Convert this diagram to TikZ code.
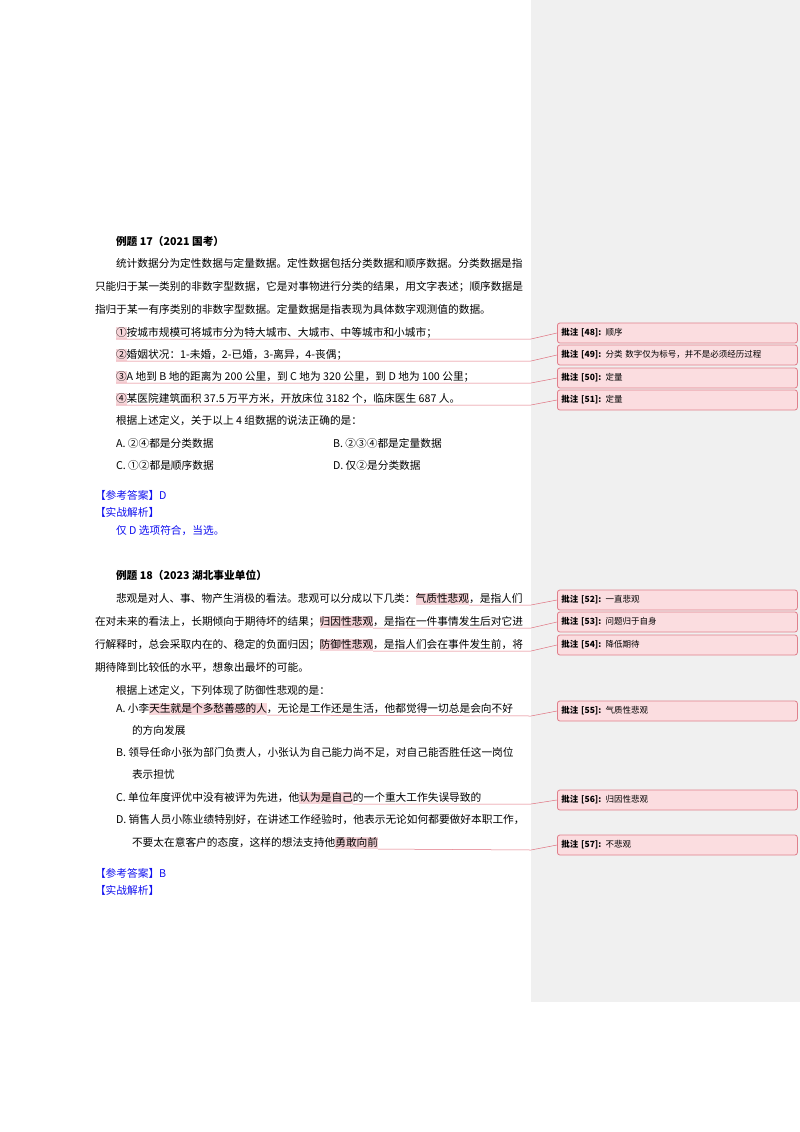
\documentclass[tikz,border=0pt]{standalone}
\usepackage{fontspec}
\setmainfont{Noto Sans CJK SC}
\definecolor{panel}{HTML}{F0F0F0}
\definecolor{hlpink}{HTML}{F6D5D9}
\definecolor{boxfill}{HTML}{FBDDE0}
\definecolor{boxline}{HTML}{E0808C}
\definecolor{cline}{HTML}{E0707E}
\definecolor{ansblue}{HTML}{1010F0}
\begin{document}
\begin{tikzpicture}[x=1pt,y=-1pt,
  t/.style={inner sep=0,outer sep=0,anchor=base west,font=\fontsize{10.7}{12}\selectfont},
  tb/.style={t,font=\fontsize{10.7}{12}\selectfont\bfseries},
  ans/.style={t,text=ansblue},
  hl/.style={t,fill=hlpink,text height=9.5,text depth=3},
  cmt/.style={draw=boxline,fill=boxfill,rounded corners=2.5,line width=0.8,minimum height=20,text width=232,inner xsep=4,anchor=west,align=left,font=\fontsize{8.5}{9.5}\selectfont},
  cl/.style={draw=cline,line width=0.5}]
\useasboundingbox (0,0) rectangle (800,1132);
\fill[white] (0,0) rectangle (800,1132);
\fill[panel] (531,0) rectangle (800,1002);
% Example 17
\node[tb] (t17) at (116,245) {例题 17（2021 国考）};
\node[t] (p1) at (116,267) {统计数据分为定性数据与定量数据。定性数据包括分类数据和顺序数据。分类数据是指};
\node[t] (p2) at (95,290) {只能归于某一类别的非数字型数据，它是对事物进行分类的结果，用文字表述；顺序数据是};
\node[t] (p3) at (95,313) {指归于某一有序类别的非数字型数据。定量数据是指表现为具体数字观测值的数据。};
\node[hl] (h1) at (116,336) {①};
\node[t] at (h1.base east) {按城市规模可将城市分为特大城市、大城市、中等城市和小城市；};
\node[hl] (h2) at (116,358) {②};
\node[t] at (h2.base east) {婚姻状况：1-未婚，2-已婚，3-离异，4-丧偶；};
\node[hl] (h3) at (116,380) {③};
\node[t] at (h3.base east) {A 地到 B 地的距离为 200 公里，到 C 地为 320 公里，到 D 地为 100 公里；};
\node[hl] (h4) at (116,402) {④};
\node[t] at (h4.base east) {某医院建筑面积 37.5 万平方米，开放床位 3182 个，临床医生 687 人。};
\node[t] (q17) at (116,424) {根据上述定义，关于以上 4 组数据的说法正确的是：};
\node[t] (oa) at (116,447) {A. ②④都是分类数据};
\node[t] (ob) at (333,447) {B. ②③④都是定量数据};
\node[t] (oc) at (116,469) {C. ①②都是顺序数据};
\node[t] (od) at (333,469) {D. 仅②是分类数据};
\node[ans] (a17) at (95,499) {【参考答案】D};
\node[ans] (s17) at (95,516) {【实战解析】};
\node[ans] (e17) at (116,534) {仅 D 选项符合，当选。};
% comments 17
\node[cmt] (c48) at (557,333) {\textbf{批注 [48]:} 顺序};
\node[cmt] (c49) at (557,355) {\textbf{批注 [49]:} 分类 数字仅为标号，并不是必须经历过程};
\node[cmt] (c50) at (557,378) {\textbf{批注 [50]:} 定量};
\node[cmt] (c51) at (557,400) {\textbf{批注 [51]:} 定量};
\draw[cl] (h1.south west) -- (531,339) -- (c48.west);
\draw[cl] (h2.south west) -- (531,361) -- (c49.west);
\draw[cl] (h3.south west) -- (531,383) -- (c50.west);
\draw[cl] (h4.south west) -- (531,405) -- (c51.west);
% Example 18
\node[tb] (t18) at (116,579) {例题 18（2023 湖北事业单位）};
\node[t] (r1) at (116,602) {悲观是对人、事、物产生消极的看法。悲观可以分成以下几类：};
\node[hl] (g1) at (r1.base east) {气质性悲观};
\node[t] at (g1.base east) {，是指人们};
\node[t] (r2) at (95,625) {在对未来的看法上，长期倾向于期待坏的结果；};
\node[hl] (g2) at (r2.base east) {归因性悲观};
\node[t] at (g2.base east) {，是指在一件事情发生后对它进};
\node[t] (r3) at (95,648) {行解释时，总会采取内在的、稳定的负面归因；};
\node[hl] (g3) at (r3.base east) {防御性悲观};
\node[t] at (g3.base east) {，是指人们会在事件发生前，将};
\node[t] (r4) at (95,671) {期待降到比较低的水平，想象出最坏的可能。};
\node[t] (q18) at (116,694) {根据上述定义，下列体现了防御性悲观的是：};
\node[t] (ra) at (116,712) {A. 小李};
\node[hl] (g4) at (ra.base east) {天生就是个多愁善感的人};
\node[t] at (g4.base east) {，无论是工作还是生活，他都觉得一切总是会向不好};
\node[t] (ra2) at (132,734) {的方向发展};
\node[t] (rb) at (116,756) {B. 领导任命小张为部门负责人，小张认为自己能力尚不足，对自己能否胜任这一岗位};
\node[t] (rb2) at (132,778) {表示担忧};
\node[t] (rc) at (116,801) {C. 单位年度评优中没有被评为先进，他};
\node[hl] (g5) at (rc.base east) {认为是自己};
\node[t] at (g5.base east) {的一个重大工作失误导致的};
\node[t] (rd) at (116,823) {D. 销售人员小陈业绩特别好，在讲述工作经验时，他表示无论如何都要做好本职工作，};
\node[t] (rd2) at (132,846) {不要太在意客户的态度，这样的想法支持他};
\node[hl] (g6) at (rd2.base east) {勇敢向前};
\node[ans] (a18) at (95,877) {【参考答案】B};
\node[ans] (s18) at (95,894) {【实战解析】};
% comments 18
\node[cmt] (c52) at (557,600) {\textbf{批注 [52]:} 一直悲观};
\node[cmt] (c53) at (557,622) {\textbf{批注 [53]:} 问题归于自身};
\node[cmt] (c54) at (557,645) {\textbf{批注 [54]:} 降低期待};
\node[cmt] (c55) at (557,711) {\textbf{批注 [55]:} 气质性悲观};
\node[cmt] (c56) at (557,800) {\textbf{批注 [56]:} 归因性悲观};
\node[cmt] (c57) at (557,845) {\textbf{批注 [57]:} 不悲观};
\draw[cl] (g1.south east) -- (531,605) -- (c52.west);
\draw[cl] (g2.south east) -- (531,628) -- (c53.west);
\draw[cl] (g3.south east) -- (531,651) -- (c54.west);
\draw[cl] (g4.south east) -- (531,716) -- (c55.west);
\draw[cl] (g5.south east) -- (531,804) -- (c56.west);
\draw[cl] (g6.south east) -- (531,850) -- (c57.west);
\end{tikzpicture}
\end{document}
